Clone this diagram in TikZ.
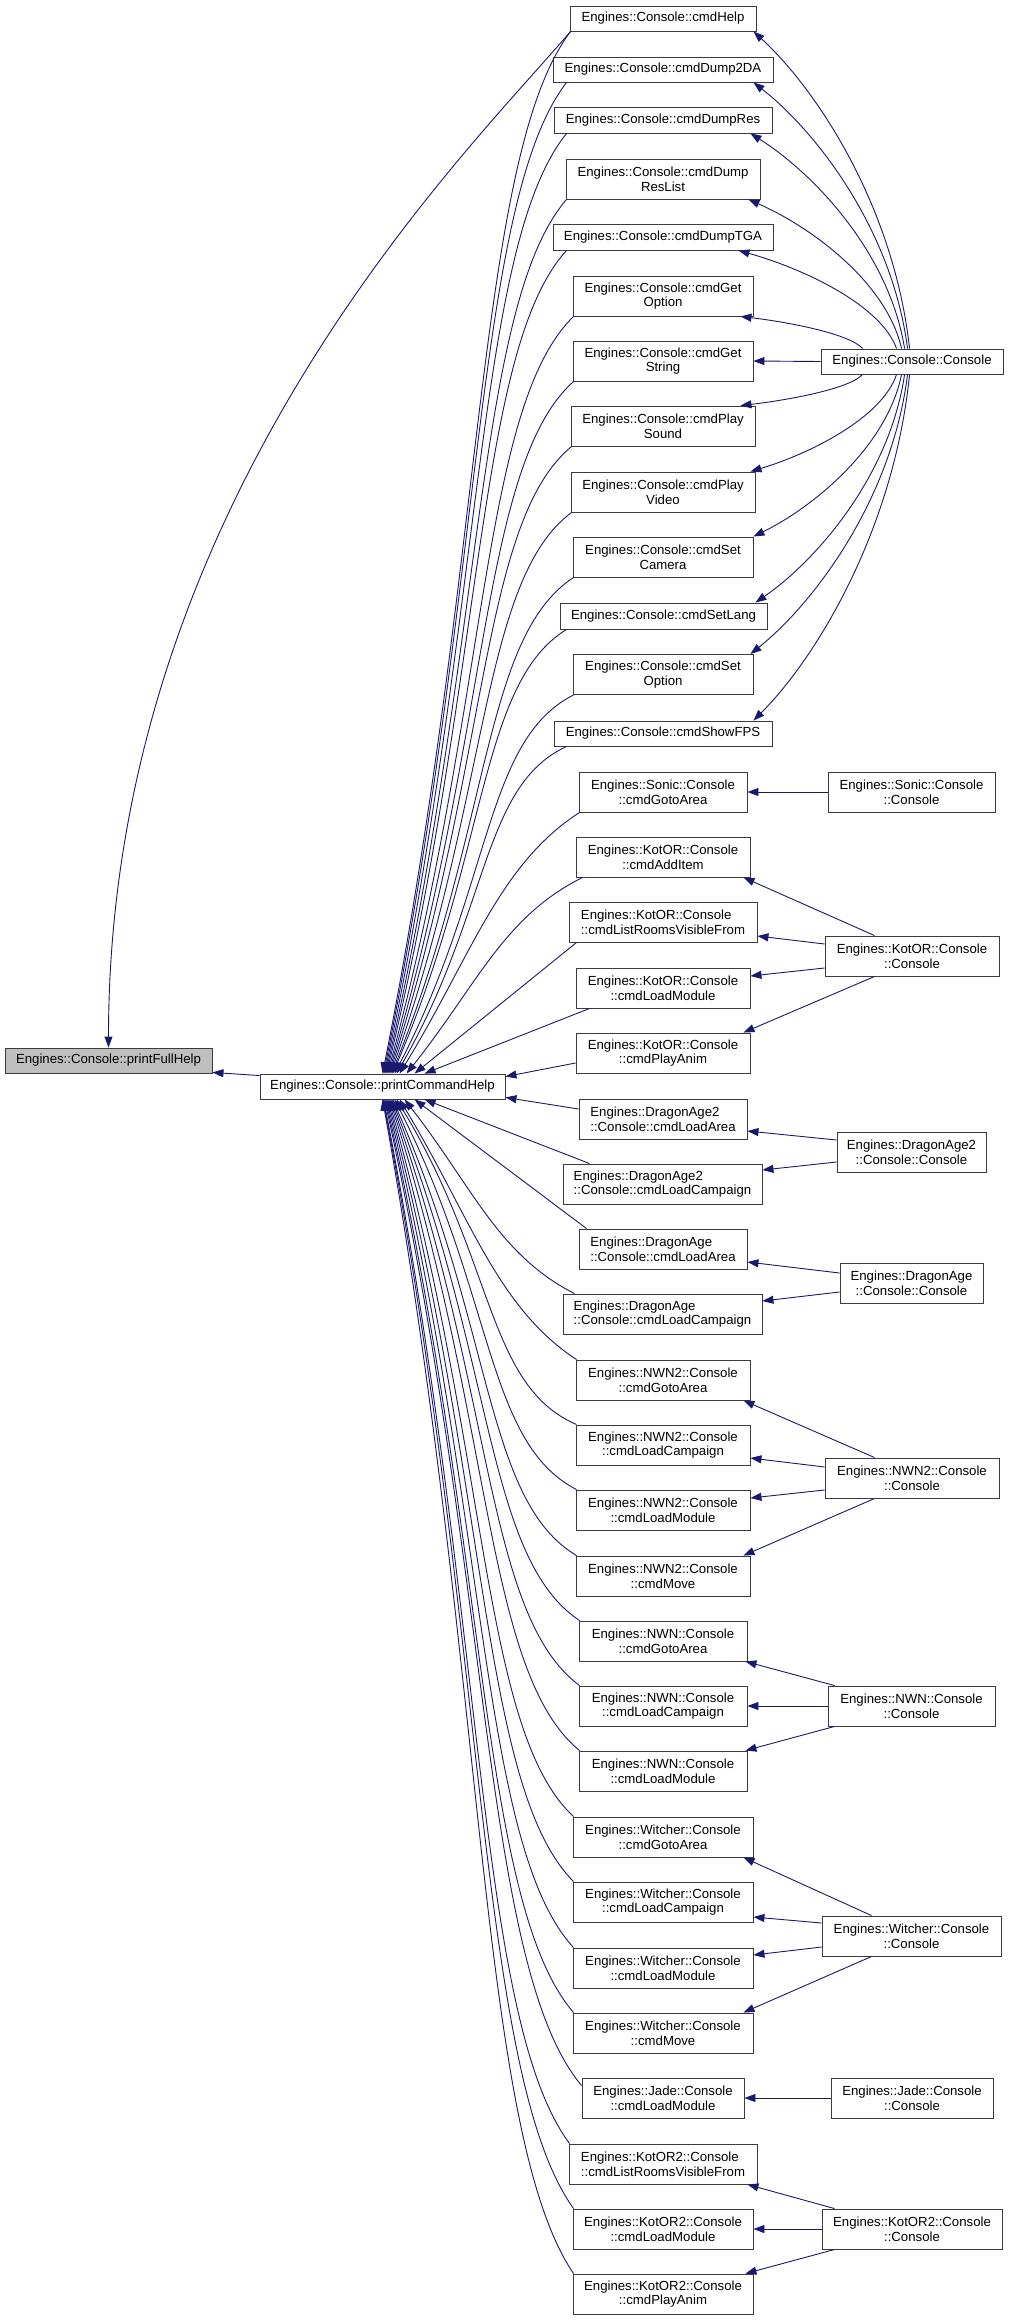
\documentclass[tikz,border=0pt]{standalone}
\usepackage{fontspec}
\setmainfont{Liberation Sans}
\usetikzlibrary{arrows.meta,calc}
\definecolor{navyc}{RGB}{25,25,112}
\definecolor{grayfill}{RGB}{191,191,191}
\definecolor{boxline}{RGB}{60,60,60}
\newcommand\boxfont{\fontsize{13.2bp}{14.6bp}\selectfont}
% node: name, cx, cy, w, h, extra, text
\newcommand\bx[7]{\node[box,minimum width=#4bp,minimum height=#5bp,#6] (#1) at (#2,#3) {#7};}
% generic curved edge
\newcommand\cedge[6]{\draw[edge] let \p1=(#1), \p2=(#2), \n1={\x1-\x2}, \n2={\y1-\y2} in
  (\p1) .. controls ({\x1-#3*(\n1)},{\y1-#4*(\n2)}) and ({\x2+#5*(\n1)},{\y2+#6*(\n2)}) .. (\p2);}
\newcommand\faredge[2]{\cedge{#1}{#2}{0.5}{0.12}{0.55}{0.5}}
\newcommand\mededge[2]{\cedge{#1}{#2}{0.45}{0.2}{0.4}{0.45}}
\newcommand\conedge[2]{\cedge{#1}{#2}{0.1}{0.45}{0.4}{0.18}}
\newcommand\sedge[2]{\draw[edge] (#1) -- (#2);}
\begin{document}
\begin{tikzpicture}[x=1bp,y=-1bp,
  box/.style={draw=boxline,line width=0.9bp,fill=white,inner sep=0pt,align=center,font=\boxfont,text=black},
  edge/.style={draw=navyc,line width=0.9bp,-{Triangle[length=11bp,width=8bp]}}]
\fill[white] (0,0) rectangle (1008,2321);
\useasboundingbox (0,0) rectangle (1008,2321);
% ---------- nodes ----------
\bx{pfh}{108.5}{1060.5}{207}{25}{fill=grayfill}{Engines::Console::printFullHelp}
\bx{pch}{382.5}{1086.5}{245}{25}{}{Engines::Console::printCommandHelp}
\bx{help}{663}{18.5}{186}{25}{}{Engines::Console::cmdHelp}
\bx{d2da}{663}{69.5}{220}{25}{}{Engines::Console::cmdDump2DA}
\bx{dres}{663}{120}{218}{26}{}{Engines::Console::cmdDumpRes}
\bx{dreslist}{663}{179}{194}{40}{}{Engines::Console::cmdDump\\ResList}
\bx{dtga}{663}{237}{220}{26}{}{Engines::Console::cmdDumpTGA}
\bx{getopt}{663}{296}{180}{40}{}{Engines::Console::cmdGet\\Option}
\bx{getstr}{663}{361}{180}{40}{}{Engines::Console::cmdGet\\String}
\bx{psound}{663}{426}{184}{40}{}{Engines::Console::cmdPlay\\Sound}
\bx{pvideo}{663}{492}{184}{40}{}{Engines::Console::cmdPlay\\Video}
\bx{scam}{663}{557}{180}{40}{}{Engines::Console::cmdSet\\Camera}
\bx{slang}{663.5}{616}{207}{26}{}{Engines::Console::cmdSetLang}
\bx{sopt}{663}{674.5}{180}{40}{}{Engines::Console::cmdSet\\Option}
\bx{fps}{663}{733.5}{218}{25}{}{Engines::Console::cmdShowFPS}
\bx{con}{912}{361.5}{182}{25}{}{Engines::Console::Console}
\bx{sgoto}{663}{792}{168}{40}{}{Engines::Sonic::Console\\::cmdGotoArea}
\bx{scon}{911.5}{792}{167}{40}{}{Engines::Sonic::Console\\::Console}
\bx{kadd}{663}{857}{174}{40}{}{Engines::KotOR::Console\\::cmdAddItem}
\bx{klist}{663}{922}{188}{40}{align=left}{Engines::KotOR::Console\\::cmdListRoomsVisibleFrom}
\bx{kcon}{912}{956}{174}{40}{}{Engines::KotOR::Console\\::Console}
\bx{kload}{663}{988}{174}{40}{}{Engines::KotOR::Console\\::cmdLoadModule}
\bx{kanim}{663}{1053}{174}{40}{}{Engines::KotOR::Console\\::cmdPlayAnim}
\bx{da2area}{663}{1119}{168}{40}{align=left}{Engines::DragonAge2\\::Console::cmdLoadArea}
\bx{da2con}{911.5}{1152}{149}{40}{}{Engines::DragonAge2\\::Console::Console}
\bx{da2camp}{662.5}{1184}{199}{40}{align=left}{Engines::DragonAge2\\::Console::cmdLoadCampaign}
\bx{daarea}{663}{1249}{168}{40}{align=left}{Engines::DragonAge\\::Console::cmdLoadArea}
\bx{dacon}{911.5}{1283}{143}{40}{}{Engines::DragonAge\\::Console::Console}
\bx{dacamp}{662.5}{1314}{199}{40}{align=left}{Engines::DragonAge\\::Console::cmdLoadCampaign}
\bx{n2goto}{663}{1380}{174}{40}{}{Engines::NWN2::Console\\::cmdGotoArea}
\bx{n2camp}{663}{1445}{174}{40}{}{Engines::NWN2::Console\\::cmdLoadCampaign}
\bx{n2con}{912}{1478}{174}{40}{}{Engines::NWN2::Console\\::Console}
\bx{n2load}{663}{1510}{174}{40}{}{Engines::NWN2::Console\\::cmdLoadModule}
\bx{n2move}{663}{1576}{174}{40}{}{Engines::NWN2::Console\\::cmdMove}
\bx{ngoto}{663}{1641}{168}{40}{}{Engines::NWN::Console\\::cmdGotoArea}
\bx{ncamp}{663}{1706}{168}{40}{}{Engines::NWN::Console\\::cmdLoadCampaign}
\bx{ncon}{911.5}{1706}{167}{40}{}{Engines::NWN::Console\\::Console}
\bx{nload}{663}{1771}{168}{40}{}{Engines::NWN::Console\\::cmdLoadModule}
\bx{wgoto}{663}{1837}{180}{40}{}{Engines::Witcher::Console\\::cmdGotoArea}
\bx{wcamp}{663}{1902}{180}{40}{}{Engines::Witcher::Console\\::cmdLoadCampaign}
\bx{wcon}{911.5}{1936}{179}{40}{}{Engines::Witcher::Console\\::Console}
\bx{wload}{663}{1968}{180}{40}{}{Engines::Witcher::Console\\::cmdLoadModule}
\bx{wmove}{663}{2033}{180}{40}{}{Engines::Witcher::Console\\::cmdMove}
\bx{jload}{663}{2098}{162}{40}{}{Engines::Jade::Console\\::cmdLoadModule}
\bx{jcon}{912}{2098}{162}{40}{}{Engines::Jade::Console\\::Console}
\bx{k2list}{663}{2164}{188}{40}{align=left}{Engines::KotOR2::Console\\::cmdListRoomsVisibleFrom}
\bx{k2load}{663}{2229}{180}{40}{}{Engines::KotOR2::Console\\::cmdLoadModule}
\bx{k2con}{912}{2229}{180}{40}{}{Engines::KotOR2::Console\\::Console}
\bx{k2anim}{663}{2294}{180}{40}{}{Engines::KotOR2::Console\\::cmdPlayAnim}
% ---------- edges to printFullHelp ----------
\sedge{$(pch.north west)+(0,2)$}{$(pfh.south east)+(0,-1)$}
\draw[edge] ($(help.south west)+(1,0)$) .. controls +(-101,119) and +(0,-548) .. (pfh.north);
% ---------- cmds above -> printCommandHelp ----------
\faredge{$(help.south west)+(1,0)$}{$(pch.north west)+(123,0)$}
\faredge{$(d2da.south west)+(14,0)$}{$(pch.north west)+(124,0)$}
\faredge{$(dres.south west)+(13,0)$}{$(pch.north west)+(125,0)$}
\faredge{$(dreslist.south west)+(1,0)$}{$(pch.north west)+(126,0)$}
\faredge{$(dtga.south west)+(14,0)$}{$(pch.north west)+(127,0)$}
\faredge{$(getopt.south west)+(1,0)$}{$(pch.north west)+(128,0)$}
\faredge{$(getstr.south west)+(1,0)$}{$(pch.north west)+(129,0)$}
\faredge{$(psound.south west)+(1,0)$}{$(pch.north west)+(130,0)$}
\faredge{$(pvideo.south west)+(1,0)$}{$(pch.north west)+(131,0)$}
\faredge{$(scam.south west)+(1,0)$}{$(pch.north west)+(132,0)$}
\faredge{$(slang.south west)+(7,0)$}{$(pch.north west)+(133,0)$}
\faredge{$(sopt.south west)+(1,0)$}{$(pch.north west)+(135,0)$}
\faredge{$(fps.south west)+(13,0)$}{$(pch.north west)+(137,0)$}
\mededge{$(sgoto.south west)+(1,0)$}{$(pch.north west)+(140,0)$}
\mededge{$(kadd.south west)+(7,0)$}{$(pch.north west)+(147,0)$}
\sedge{$(klist.south west)+(8,0)$}{$(pch.north west)+(155,0)$}
\sedge{$(kload.south west)+(14,0)$}{$(pch.north west)+(165,0)$}
\sedge{$(kanim.west)+(0,10)$}{$(pch.north east)+(0,3)$}
% ---------- cmds below -> printCommandHelp ----------
\sedge{$(da2area.west)+(0,-10)$}{$(pch.south east)+(0,-2)$}
\sedge{$(da2camp.north west)+(27,0)$}{$(pch.south west)+(165,0)$}
\sedge{$(daarea.north west)+(8,0)$}{$(pch.south west)+(155,0)$}
\mededge{$(dacamp.north west)+(12,0)$}{$(pch.south west)+(145,0)$}
\mededge{$(n2goto.north west)+(1,0)$}{$(pch.south west)+(140,0)$}
\faredge{$(n2camp.north west)+(1,0)$}{$(pch.south west)+(137,0)$}
\faredge{$(n2load.north west)+(1,0)$}{$(pch.south west)+(135,0)$}
\faredge{$(n2move.north west)+(1,0)$}{$(pch.south west)+(133,0)$}
\faredge{$(ngoto.north west)+(1,0)$}{$(pch.south west)+(132,0)$}
\faredge{$(ncamp.north west)+(1,0)$}{$(pch.south west)+(131,0)$}
\faredge{$(nload.north west)+(1,0)$}{$(pch.south west)+(130,0)$}
\faredge{$(wgoto.north west)+(1,0)$}{$(pch.south west)+(129,0)$}
\faredge{$(wcamp.north west)+(1,0)$}{$(pch.south west)+(128,0)$}
\faredge{$(wload.north west)+(1,0)$}{$(pch.south west)+(127,0)$}
\faredge{$(wmove.north west)+(1,0)$}{$(pch.south west)+(126,0)$}
\faredge{$(jload.north west)+(0,8)$}{$(pch.south west)+(125,0)$}
\faredge{$(k2list.north west)+(1,0)$}{$(pch.south west)+(124,0)$}
\faredge{$(k2load.north west)+(1,0)$}{$(pch.south west)+(123.5,0)$}
\faredge{$(k2anim.north west)+(1,0)$}{$(pch.south west)+(123,0)$}
% ---------- Console::Console -> cmds ----------
\conedge{$(con.north west)+(89,0)$}{$(help.south east)+(-3,0)$}
\conedge{$(con.north west)+(87,0)$}{$(d2da.south east)+(-20,0)$}
\conedge{$(con.north west)+(84,0)$}{$(dres.south east)+(-22,0)$}
\conedge{$(con.north west)+(81,0)$}{$(dreslist.south east)+(-12,0)$}
\conedge{$(con.north west)+(76,0)$}{$(dtga.south east)+(-35,0)$}
\conedge{$(con.north west)+(42,0)$}{$(getopt.south east)+(-13,0)$}
\sedge{con.west}{getstr.east}
\conedge{$(con.south west)+(42,0)$}{$(psound.north east)+(-15,0)$}
\conedge{$(con.south west)+(76,0)$}{$(pvideo.north east)+(-5,0)$}
\conedge{$(con.south west)+(81,0)$}{$(scam.north east)+(0,0)$}
\conedge{$(con.south west)+(84,0)$}{$(slang.north east)+(-12,0)$}
\conedge{$(con.south west)+(87,0)$}{$(sopt.north east)+(-3,0)$}
\conedge{$(con.south west)+(89,0)$}{$(fps.north east)+(-19,0)$}
% ---------- other consoles ----------
\sedge{scon.west}{sgoto.east}
\sedge{$(kcon.north west)+(50,0)$}{$(kadd.south east)+(-7,0)$}
\sedge{$(kcon.west)+(0,-12)$}{$(klist.east)+(0,14)$}
\sedge{$(kcon.west)+(0,12)$}{$(kload.east)+(0,-12)$}
\sedge{$(kcon.south west)+(50,0)$}{$(kanim.north east)+(-7,0)$}
\sedge{$(da2con.west)+(0,-12)$}{$(da2area.east)+(0,12)$}
\sedge{$(da2con.west)+(0,10)$}{$(da2camp.east)+(0,-14)$}
\sedge{$(dacon.west)+(0,-10)$}{$(daarea.east)+(0,13)$}
\sedge{$(dacon.west)+(0,9)$}{$(dacamp.east)+(0,-13)$}
\sedge{$(n2con.north west)+(50,0)$}{$(n2goto.south east)+(-7,0)$}
\sedge{$(n2con.west)+(0,-11)$}{$(n2camp.east)+(0,13)$}
\sedge{$(n2con.west)+(0,12)$}{$(n2load.east)+(0,-12)$}
\sedge{$(n2con.south west)+(50,0)$}{$(n2move.north east)+(-7,0)$}
\sedge{$(ncon.north west)+(7,0)$}{$(ngoto.south east)+(-2,0)$}
\sedge{ncon.west}{ncamp.east}
\sedge{$(ncon.south west)+(7,0)$}{$(nload.north east)+(-2,0)$}
\sedge{$(wcon.north west)+(50,0)$}{$(wgoto.south east)+(-10,0)$}
\sedge{$(wcon.west)+(0,-13)$}{$(wcamp.east)+(0,15)$}
\sedge{$(wcon.west)+(0,11)$}{$(wload.east)+(0,-13)$}
\sedge{$(wcon.south west)+(50,0)$}{$(wmove.north east)+(-10,0)$}
\sedge{jcon.west}{jload.east}
\sedge{$(k2con.north west)+(13,0)$}{$(k2list.south east)+(-10,0)$}
\sedge{k2con.west}{k2load.east}
\sedge{$(k2con.south west)+(13,0)$}{$(k2anim.north east)+(-8,0)$}
\end{tikzpicture}
\end{document}
